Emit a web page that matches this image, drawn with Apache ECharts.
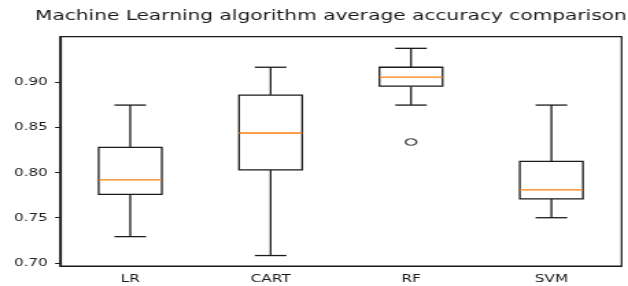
<!DOCTYPE html>
<html>
<head>
<meta charset="utf-8">
<script src="https://cdn.jsdelivr.net/npm/echarts@6/dist/echarts.min.js"></script>
<style>
  html, body { margin: 0; padding: 0; background: #fff; overflow: hidden; }
  /* the reference picture is stretched sideways, so draw narrow and widen */
  #chart { width: 458px; height: 286px; transform: scaleX(1.3712); transform-origin: 0 0; }
</style>
</head>
<body>
<div id="chart"></div>
<script>
var categories = ['LR', 'CART', 'RF', 'SVM'];
var whiskerLow = [0.729, 0.708, 0.875, 0.750];
var q1 = [0.776, 0.803, 0.896, 0.771];
var median = [0.792, 0.844, 0.906, 0.781];
var q3 = [0.828, 0.886, 0.917, 0.8125];
var whiskerHigh = [0.875, 0.917, 0.938, 0.875];
var outliers = [['RF', 0.834]];
var yTicks = [0.70, 0.75, 0.80, 0.85, 0.90];

var lineColor = '#1a1a1a';
var medianColor = '#ff7f0e';

var boxData = categories.map(function (c, i) {
  return [i, whiskerLow[i], q1[i], median[i], q3[i], whiskerHigh[i]];
});

function renderBox(params, api) {
  var x = api.value(0);
  var band = api.size([1, 0])[0];
  var bw = band * 0.45;
  var cw = bw / 2;
  var lo = api.coord([x, api.value(1)]);
  var b1 = api.coord([x, api.value(2)]);
  var md = api.coord([x, api.value(3)]);
  var b3 = api.coord([x, api.value(4)]);
  var hi = api.coord([x, api.value(5)]);
  var cx = lo[0];
  var stroke = { stroke: lineColor, lineWidth: 1.3, fill: null };
  return {
    type: 'group',
    children: [
      { type: 'line', shape: { x1: cx, y1: lo[1], x2: cx, y2: b1[1] }, style: stroke },
      { type: 'line', shape: { x1: cx, y1: b3[1], x2: cx, y2: hi[1] }, style: stroke },
      { type: 'line', shape: { x1: cx - cw / 2, y1: lo[1], x2: cx + cw / 2, y2: lo[1] }, style: stroke },
      { type: 'line', shape: { x1: cx - cw / 2, y1: hi[1], x2: cx + cw / 2, y2: hi[1] }, style: stroke },
      { type: 'rect', shape: { x: cx - bw / 2, y: b3[1], width: bw, height: b1[1] - b3[1] }, style: { stroke: lineColor, lineWidth: 1.3, fill: '#fff' } },
      { type: 'line', shape: { x1: cx - bw / 2, y1: md[1], x2: cx + bw / 2, y2: md[1] }, style: { stroke: medianColor, lineWidth: 1.3 } }
    ]
  };
}

var chart = echarts.init(document.getElementById('chart'));
chart.setOption({
  animation: false,
  title: {
    text: 'Machine Learning algorithm average accuracy comparison',
    left: 25.5,
    top: 9,
    padding: 0,
    textStyle: { fontFamily: 'DejaVu Sans', fontSize: 14.7, fontWeight: 'normal', color: lineColor }
  },
  grid: {
    left: 43.8, right: 4.7, top: 36.7, bottom: 20,
    show: true, borderColor: lineColor, borderWidth: 1.2, backgroundColor: 'transparent'
  },
  xAxis: {
    type: 'category',
    data: categories,
    boundaryGap: true,
    axisLine: { lineStyle: { color: lineColor, width: 1.2 } },
    axisTick: { alignWithLabel: true, length: 3.6, lineStyle: { color: lineColor } },
    axisLabel: { fontFamily: 'DejaVu Sans', fontSize: 11.2, color: lineColor, margin: 7.5 },
    splitLine: { show: false }
  },
  yAxis: {
    type: 'value',
    min: 0.6964,
    max: 0.9509,
    axisLine: { show: true, lineStyle: { color: lineColor, width: 1.2 } },
    axisTick: { show: true, length: 3.6, customValues: yTicks, lineStyle: { color: lineColor } },
    axisLabel: {
      fontFamily: 'DejaVu Sans', fontSize: 11, color: lineColor, margin: 9,
      customValues: yTicks,
      formatter: function (v) { return v.toFixed(2); }
    },
    splitLine: { show: false }
  },
  series: [{
    type: 'custom',
    renderItem: renderBox,
    data: boxData,
    encode: { x: 0, y: [1, 2, 3, 4, 5] },
    silent: true
  }, {
    type: 'scatter',
    data: outliers,
    symbol: 'circle',
    symbolSize: [8, 6.5],
    itemStyle: { color: 'transparent', borderColor: lineColor, borderWidth: 1.3 },
    silent: true
  }]
});
</script>
</body>
</html>
